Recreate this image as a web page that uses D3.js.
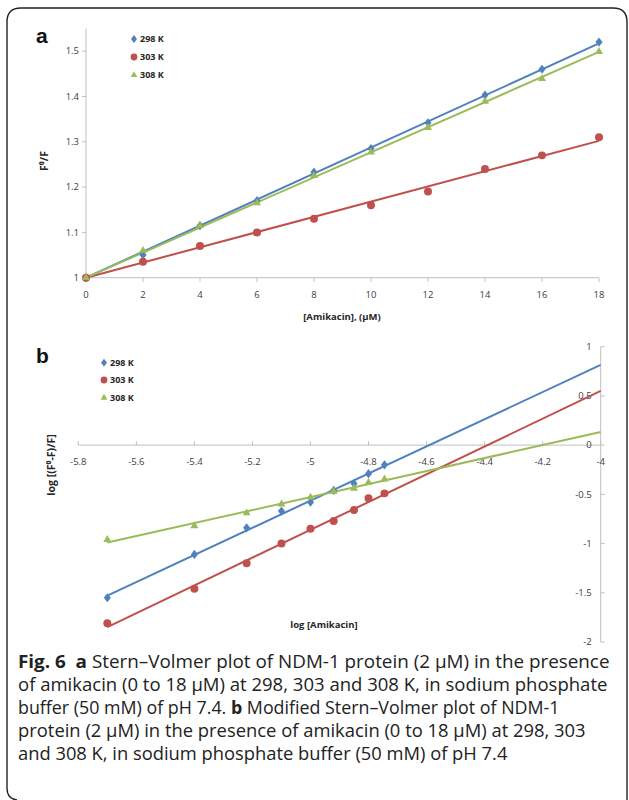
<!DOCTYPE html>
<html><head><meta charset="utf-8">
<script src="https://cdn.jsdelivr.net/npm/d3@7"></script>
<style>
html,body{margin:0;padding:0;background:#fff;}
svg{display:block;}
</style>
</head><body>
<svg id="chart" width="629" height="800"></svg>
<script>
// ---------- DATA ----------
const seriesNames = ["298 K", "303 K", "308 K"];
const colors = ["#4F81BD", "#C0504D", "#9BBB59"];
const symbols = ["diamond", "circle", "triangle"];

// Panel a: Stern–Volmer
const concA = [0, 2, 4, 6, 8, 10, 12, 14, 16, 18];
const f298 = [1.00, 1.05, 1.115, 1.17, 1.233, 1.285, 1.342, 1.403, 1.46, 1.52];
const f303 = [1.00, 1.035, 1.07, 1.10, 1.13, 1.16, 1.19, 1.24, 1.27, 1.31];
const f308 = [1.00, 1.06, 1.115, 1.165, 1.225, 1.277, 1.331, 1.389, 1.439, 1.499];
const xTicksA = [0, 2, 4, 6, 8, 10, 12, 14, 16, 18];
const yTicksA = [1, 1.1, 1.2, 1.3, 1.4, 1.5];

// Panel b: modified Stern–Volmer
const logConc = [-5.70, -5.40, -5.22, -5.10, -5.00, -4.92, -4.85, -4.80, -4.745];
const l298 = [-1.55, -1.11, -0.84, -0.67, -0.58, -0.46, -0.39, -0.29, -0.20];
const l303 = [-1.81, -1.46, -1.20, -1.00, -0.85, -0.77, -0.66, -0.54, -0.49];
const l308 = [-0.96, -0.82, -0.69, -0.60, -0.53, -0.47, -0.44, -0.38, -0.345];
const xTicksB = [-5.8, -5.6, -5.4, -5.2, -5, -4.8, -4.6, -4.4, -4.2, -4];
const yTicksB = [1, 0.5, 0, -0.5, -1, -1.5, -2];

const captionLines = [
  [["Fig. 6", true], ["  ", false], ["a", true], [" Stern–Volmer plot of NDM-1 protein (2 µM) in the presence", false]],
  [["of amikacin (0 to 18 µM) at 298, 303 and 308 K, in sodium phosphate", false]],
  [["buffer (50 mM) of pH 7.4. ", false], ["b", true], [" Modified Stern–Volmer plot of NDM-1", false]],
  [["protein (2 µM) in the presence of amikacin (0 to 18 µM) at 298, 303", false]],
  [["and 308 K, in sodium phosphate buffer (50 mM) of pH 7.4", false]]
];
const captionWidths = [592, 590, 542, 568, 490];

// ---------- DRAW ----------
const svg = d3.select("#chart");
const chartFont = "'Open Sans', 'Liberation Sans', sans-serif";
const axisColor = "#BFBFBF";
const labelColor = "#404040";

// frame (open at the bottom, as cropped)
svg.append("path")
  .attr("d", "M17,800 Q7,799 7,788 L7,22 Q7,8 21,8 L613,8 Q627,8 627,22 L627,800")
  .attr("fill", "none").attr("stroke", "#222").attr("stroke-width", 1.4);

function symbolPath(type, size) {
  const t = type === "diamond" ? d3.symbolDiamond2 : type === "circle" ? d3.symbolCircle : d3.symbolTriangle2;
  return d3.symbol().type(t).size(size)();
}
const symSize = {diamond: 44, circle: 50, triangle: 46};

function drawMarkers(g, xs, ys, x, y, i) {
  g.selectAll(null).data(xs).enter().append("path")
    .attr("d", symbolPath(symbols[i], symSize[symbols[i]]))
    .attr("transform", (d, k) => `translate(${x(d)},${y(ys[k])})` + (symbols[i] === "diamond" ? " scale(0.85,1.1)" : ""))
    .attr("fill", colors[i]);
}

function drawLegend(g, x0, rows) {
  seriesNames.forEach((n, i) => {
    g.append("path").attr("d", symbolPath(symbols[i], symbols[i] === "circle" ? 36 : 32))
      .attr("transform", `translate(${x0},${rows[i]})` + (symbols[i] === "diamond" ? " scale(0.85,1.1)" : ""))
      .attr("fill", colors[i]);
    g.append("text").attr("x", x0 + 6).attr("y", rows[i]).attr("dy", "0.35em")
      .attr("font-family", chartFont).attr("font-size", 9).attr("font-weight", "bold")
      .attr("fill", "#262626").text(n);
  });
}

// ===== Panel a =====
const ga = svg.append("g");
const xA = d3.scaleLinear().domain([0, 18]).range([86, 599]);
const yA = d3.scaleLinear().domain([1, 1.55]).range([277.7, 28.5]);

ga.append("line").attr("x1", xA(0)).attr("x2", xA(0)).attr("y1", yA(1.55)).attr("y2", yA(1)).attr("stroke", axisColor);
ga.append("line").attr("x1", xA(0)).attr("x2", xA(18)).attr("y1", yA(1)).attr("y2", yA(1)).attr("stroke", axisColor);
ga.selectAll(null).data(yTicksA).enter().append("line")
  .attr("x1", xA(0) - 4).attr("x2", xA(0)).attr("y1", d => yA(d)).attr("y2", d => yA(d)).attr("stroke", axisColor);
ga.selectAll(null).data(yTicksA).enter().append("text")
  .attr("x", xA(0) - 7).attr("y", d => yA(d)).attr("dy", "0.35em").attr("text-anchor", "end")
  .attr("font-family", chartFont).attr("font-size", 9.5).attr("fill", labelColor)
  .text(d => d3.format("~g")(d));
ga.selectAll(null).data(xTicksA).enter().append("line")
  .attr("x1", d => xA(d)).attr("x2", d => xA(d)).attr("y1", yA(1)).attr("y2", yA(1) + 4).attr("stroke", axisColor);
ga.selectAll(null).data(xTicksA).enter().append("text")
  .attr("x", d => xA(d)).attr("y", 295).attr("dy", "0.35em").attr("text-anchor", "middle")
  .attr("font-family", chartFont).attr("font-size", 9.5).attr("fill", labelColor)
  .text(d => d);

// trend lines (Stern–Volmer fit through intercept 1)
const seriesA = [f298, f303, f308];
seriesA.forEach((ys, i) => {
  let sxy = 0, sxx = 0;
  concA.forEach((c, k) => { sxy += c * (ys[k] - 1); sxx += c * c; });
  const k = sxy / sxx;
  ga.append("line").attr("x1", xA(0)).attr("y1", yA(1)).attr("x2", xA(18)).attr("y2", yA(1 + k * 18))
    .attr("stroke", colors[i]).attr("stroke-width", 2);
});
seriesA.forEach((ys, i) => drawMarkers(ga, concA, ys, xA, yA, i));

drawLegend(ga, 134, [39, 57, 75]);

ga.append("text").attr("x", 36).attr("y", 43).attr("font-family", "'Liberation Sans', Arial, sans-serif")
  .attr("font-size", 21).attr("font-weight", "bold").attr("fill", "#111").text("a");
ga.append("text").attr("transform", "translate(48,161) rotate(-90)").attr("text-anchor", "middle")
  .attr("font-family", chartFont).attr("font-size", 10.5).attr("font-weight", "bold").attr("fill", "#262626")
  .text("F⁰/F");
ga.append("text").attr("x", 342).attr("y", 317).attr("dy", "0.35em").attr("text-anchor", "middle")
  .attr("font-family", chartFont).attr("font-size", 9.5).attr("font-weight", "bold").attr("fill", "#262626")
  .text("[Amikacin], (µM)");

// ===== Panel b =====
const gb = svg.append("g");
const xB = d3.scaleLinear().domain([-5.8, -4]).range([78.3, 600.7]);
const yB = d3.scaleLinear().domain([-2, 1]).range([642, 346.7]);

gb.append("line").attr("x1", xB(-5.8)).attr("x2", xB(-4)).attr("y1", yB(0)).attr("y2", yB(0)).attr("stroke", axisColor);
gb.append("line").attr("x1", xB(-4)).attr("x2", xB(-4)).attr("y1", yB(1)).attr("y2", yB(-2)).attr("stroke", axisColor);
gb.selectAll(null).data(xTicksB).enter().append("line")
  .attr("x1", d => xB(d)).attr("x2", d => xB(d)).attr("y1", yB(0) - 4).attr("y2", yB(0)).attr("stroke", axisColor);
gb.selectAll(null).data(xTicksB).enter().append("text")
  .attr("x", d => xB(d)).attr("y", 462).attr("dy", "0.35em").attr("text-anchor", "middle")
  .attr("font-family", chartFont).attr("font-size", 9.5).attr("fill", labelColor)
  .text(d => d3.format("~g")(d).replace("−", "-"));
gb.selectAll(null).data(yTicksB).enter().append("line")
  .attr("x1", xB(-4)).attr("x2", xB(-4) + 4).attr("y1", d => yB(d)).attr("y2", d => yB(d)).attr("stroke", axisColor);
gb.selectAll(null).data(yTicksB).enter().append("text")
  .attr("x", xB(-4) - 9).attr("y", d => yB(d)).attr("dy", "0.35em").attr("text-anchor", "end")
  .attr("font-family", chartFont).attr("font-size", 9.5).attr("fill", labelColor)
  .text(d => d3.format("~g")(d).replace("−", "-"));

const seriesB = [l298, l303, l308];
seriesB.forEach((ys, i) => {
  const mx = d3.mean(logConc), my = d3.mean(ys);
  let sxy = 0, sxx = 0;
  logConc.forEach((c, k) => { sxy += (c - mx) * (ys[k] - my); sxx += (c - mx) * (c - mx); });
  const m = sxy / sxx, b = my - m * mx;
  const x0 = d3.min(logConc), x1 = -4;
  gb.append("line").attr("x1", xB(x0)).attr("y1", yB(m * x0 + b)).attr("x2", xB(x1)).attr("y2", yB(m * x1 + b))
    .attr("stroke", colors[i]).attr("stroke-width", 2);
});
seriesB.forEach((ys, i) => drawMarkers(gb, logConc, ys, xB, yB, i));

drawLegend(gb, 104, [362.7, 380, 397.7]);

gb.append("text").attr("x", 36).attr("y", 363).attr("font-family", "'Liberation Sans', Arial, sans-serif")
  .attr("font-size", 21).attr("font-weight", "bold").attr("fill", "#111").text("b");
gb.append("text").attr("transform", "translate(55,465) rotate(-90)").attr("text-anchor", "middle")
  .attr("font-family", chartFont).attr("font-size", 10.5).attr("font-weight", "bold").attr("fill", "#262626")
  .text("log [(F⁰-F)/F]");
gb.append("text").attr("x", 324).attr("y", 625).attr("dy", "0.35em").attr("text-anchor", "middle")
  .attr("font-family", chartFont).attr("font-size", 9.5).attr("font-weight", "bold").attr("fill", "#262626")
  .text("log [Amikacin]");

// ===== Caption (each line scaled horizontally to its measured width) =====
const baselines = [668, 691, 714, 737, 760];
captionLines.forEach((parts, li) => {
  const t = svg.append("text").attr("x", 0).attr("y", 0)
    .attr("font-family", "'Open Sans', sans-serif").attr("font-size", 18).attr("fill", "#222")
    .attr("xml:space", "preserve");
  parts.forEach(([s, bold]) => {
    t.append("tspan").attr("font-weight", bold ? "bold" : "normal").text(s);
  });
  const natural = t.node().getComputedTextLength() || captionWidths[li];
  const sx = captionWidths[li] / natural;
  t.attr("transform", `translate(18,${baselines[li]}) scale(${sx},1)`);
});
</script>
</body></html>
